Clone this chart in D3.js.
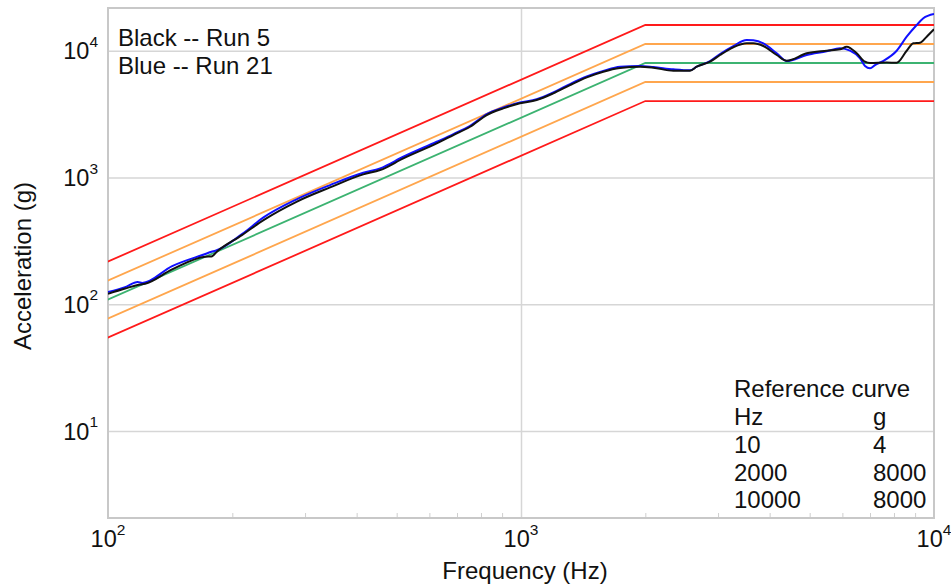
<!DOCTYPE html>
<html>
<head>
<meta charset="utf-8">
<script src="https://cdn.jsdelivr.net/npm/d3@7"></script>
<style>
  html, body { margin: 0; padding: 0; background: #fff; }
  svg { display: block; font-family: "Liberation Sans", Arial, sans-serif; }
</style>
</head>
<body>
<svg id="chart" width="951" height="588"></svg>
<script>
// Reference curve breakpoints (Hz, g)
const refHz = [10, 2000, 10000];
const refG  = [4, 8000, 8000];

// Tolerance bands around the reference curve (dB)
const bandsDb = [6, 3, 0, -3, -6];

// Run 5 (black) shock response spectrum
const run5Hz = [100, 110, 118, 123, 143, 172, 178, 184, 211, 238, 286, 345, 415, 456, 519, 625, 686, 753, 826, 906,
  994, 1091, 1197, 1314, 1443, 1582, 1737, 1942, 2091, 2338, 2566, 2664, 2869, 3033, 3266, 3520, 3652, 3861, 4161, 4399,
  4918, 5498, 5922, 6147, 6500, 6807, 7000, 7681, 8122, 8588, 8910, 9249, 9601, 10000];
const run5G = [121, 133, 142, 145, 188, 237, 238, 262, 351, 461, 643, 835, 1058, 1144, 1415, 1858, 2161, 2513, 3108, 3511,
  3845, 4083, 4611, 5361, 6167, 6828, 7302, 7477, 7342, 6953, 6953, 7477, 8189, 9249, 10637, 11439, 11439, 10892, 9249, 8339,
  9538, 10000, 10258, 10754, 9538, 8189, 7994, 8069, 8040, 10000, 11439, 11565, 12898, 14756];

// Run 21 (blue) shock response spectrum
const run21Hz = [100, 110, 118, 121, 143, 172, 178, 182, 211, 238, 286, 345, 415, 456, 519, 625, 686, 753, 826, 906,
  994, 1091, 1197, 1314, 1443, 1582, 1737, 1942, 2091, 2338, 2566, 2664, 2869, 3033, 3266, 3520, 3652, 3861, 4161, 4399,
  4918, 5498, 5922, 6261, 6621, 6807, 7000, 7197, 7525, 8122, 8588, 9080, 9421, 10000];
const run21G = [125, 136.5, 150, 147, 200, 249, 259, 264, 357, 484, 672, 871, 1089, 1180, 1457, 1913, 2201, 2559, 3166, 3562,
  3902, 4135, 4679, 5459, 6257, 6915, 7477, 7573, 7436, 7133, 7004, 7477, 8294, 9418, 10892, 12147, 12081, 11439, 9538, 8294,
  9249, 9900, 10446, 10000, 8710, 7573, 7262, 7711, 8294, 10000, 12898, 15952, 18022, 19486];

// Axis ticks
const xTicks = [100, 1000, 10000];
const yTicks = [10, 100, 1000, 10000];
const xMinor = [200, 300, 400, 500, 600, 700, 800, 900, 2000, 3000, 4000, 5000, 6000, 7000, 8000, 9000];

// Legend and reference table text
const legendLines = ["Black -- Run 5", "Blue -- Run 21"];
const tableTitle = "Reference curve";
const tableHead = ["Hz", "g"];

const W = 951, H = 588;
const plot = { left: 108, right: 934, top: 8, bottom: 518 };

const svg = d3.select("#chart");

const x = d3.scaleLog().domain([100, 10000]).range([plot.left, plot.right]);
const y = d3.scaleLog().domain([2.057, 21730]).range([plot.bottom, plot.top]);

const gridColor = "#d6d6d6";
const frameColor = "#c8c8c8";
const textColor = "#111";

// clip region for all data lines
svg.append("defs").append("clipPath").attr("id", "plotClip")
  .append("rect")
  .attr("x", plot.left).attr("y", plot.top)
  .attr("width", plot.right - plot.left).attr("height", plot.bottom - plot.top);

// Major gridlines
const gx = svg.append("g")
  .attr("transform", `translate(0,${plot.bottom})`)
  .call(d3.axisBottom(x).tickValues(xTicks.slice(1, -1))
    .tickSize(-(plot.bottom - plot.top)).tickFormat(() => ""));
gx.select(".domain").remove();
gx.selectAll(".tick line").attr("stroke", gridColor).attr("stroke-width", 1.5);

const gy = svg.append("g")
  .attr("transform", `translate(${plot.left},0)`)
  .call(d3.axisLeft(y).tickValues(yTicks)
    .tickSize(-(plot.right - plot.left)).tickFormat(() => ""));
gy.select(".domain").remove();
gy.selectAll(".tick line").attr("stroke", gridColor).attr("stroke-width", 1.5);

// Minor ticks along the bottom edge, pointing inward
const gm = svg.append("g")
  .attr("transform", `translate(0,${plot.bottom})`)
  .call(d3.axisBottom(x).tickValues(xMinor).tickSize(-5).tickFormat(() => ""));
gm.select(".domain").remove();
gm.selectAll(".tick line").attr("stroke", "#cfcfcf").attr("stroke-width", 1);

// Plot frame
svg.append("rect")
  .attr("x", plot.left).attr("y", plot.top)
  .attr("width", plot.right - plot.left).attr("height", plot.bottom - plot.top)
  .attr("fill", "none").attr("stroke", frameColor).attr("stroke-width", 2);

// Reference curve with tolerance bands
const refPts = refHz.map((f, i) => [f, refG[i]]);
const bandColor = db => db === 0 ? "#3cb371" : (Math.abs(db) === 3 ? "#ffa64d" : "#ff1a1a");
const line = d3.line().x(d => x(d[0])).y(d => y(d[1]));

const lines = svg.append("g").attr("clip-path", "url(#plotClip)");
bandsDb.forEach(db => {
  const k = Math.pow(10, db / 20);
  lines.append("path")
    .datum(refPts.map(p => [p[0], p[1] * k]))
    .attr("d", line)
    .attr("fill", "none")
    .attr("stroke", bandColor(db))
    .attr("stroke-width", 1.8);
});

// Measured spectra
const runs = [
  { hz: run21Hz, g: run21G, color: "#1010ff" },
  { hz: run5Hz, g: run5G, color: "#111111" }
];
const smooth = d3.line().x(d => x(d[0])).y(d => y(d[1])).curve(d3.curveMonotoneX);
runs.forEach(r => {
  lines.append("path")
    .datum(r.hz.map((f, i) => [f, r.g[i]]))
    .attr("d", smooth)
    .attr("fill", "none")
    .attr("stroke", r.color)
    .attr("stroke-width", 2)
    .attr("stroke-linejoin", "round");
});

// Power-of-ten tick labels
function powLabel(sel, v) {
  const e = Math.round(Math.log10(v));
  sel.append("tspan").text("10");
  sel.append("tspan").attr("font-size", 15.5).attr("dy", -12.5).text(String(e));
}

xTicks.forEach(v => {
  const t = svg.append("text")
    .attr("x", x(v)).attr("y", 547)
    .attr("text-anchor", "middle")
    .attr("font-size", 23.5).attr("fill", textColor);
  powLabel(t, v);
});

yTicks.forEach(v => {
  const t = svg.append("text")
    .attr("x", 98).attr("y", y(v) + 8.6)
    .attr("text-anchor", "end")
    .attr("font-size", 23.5).attr("fill", textColor);
  powLabel(t, v);
});

// Axis titles
svg.append("text")
  .attr("x", 525).attr("y", 579)
  .attr("text-anchor", "middle")
  .attr("font-size", 24).attr("fill", textColor)
  .text("Frequency (Hz)");

svg.append("text")
  .attr("transform", "translate(31,266) rotate(-90)")
  .attr("text-anchor", "middle")
  .attr("font-size", 24).attr("fill", textColor)
  .text("Acceleration (g)");

// Legend text
legendLines.forEach((s, i) => {
  svg.append("text")
    .attr("x", 118).attr("y", 46 + i * 27.5)
    .attr("font-size", 24).attr("fill", textColor)
    .text(s);
});

// Reference curve table
const table = svg.append("g").attr("font-size", 24).attr("fill", textColor);
table.append("text").attr("x", 734).attr("y", 397).text(tableTitle);
table.append("text").attr("x", 734).attr("y", 425).text(tableHead[0]);
table.append("text").attr("x", 873).attr("y", 425).text(tableHead[1]);
refHz.forEach((f, i) => {
  table.append("text").attr("x", 734).attr("y", 453 + i * 27.6).text(String(f));
  table.append("text").attr("x", 873).attr("y", 453 + i * 27.6).text(String(refG[i]));
});
</script>
</body>
</html>
